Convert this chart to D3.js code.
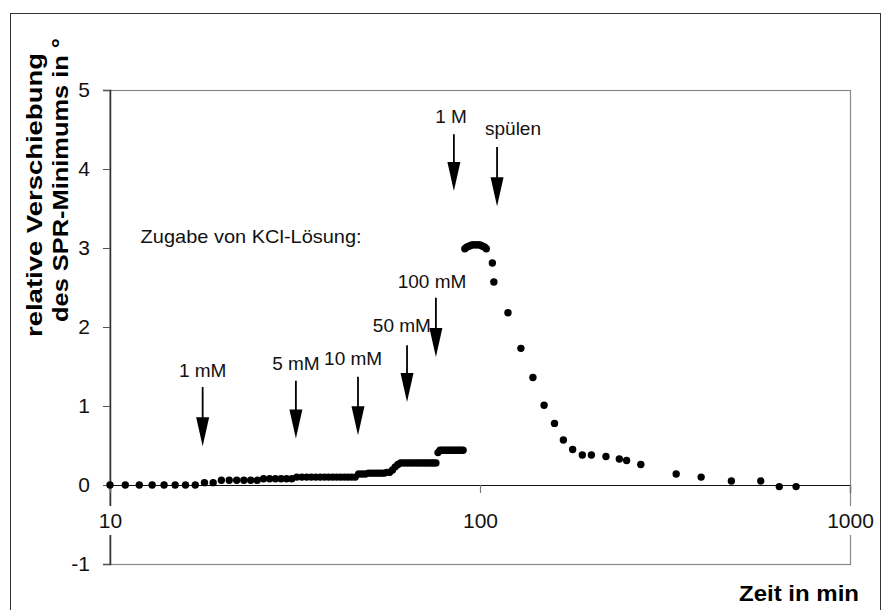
<!DOCTYPE html>
<html>
<head>
<meta charset="utf-8">
<script src="https://cdn.jsdelivr.net/npm/d3@7"></script>
<style>
  html, body { margin: 0; padding: 0; background: #fff; }
  svg { display: block; font-family: Arial, "Liberation Sans", sans-serif; }
</style>
</head>
<body>
<svg id="chart" width="882" height="610"></svg>
<script>
// ---- data ----
const times = [
  10, 11, 12, 13, 14, 15, 16, 17, 18, 19,
  20, 21, 22, 23, 24, 25, 26, 27, 28, 29,
  30, 31, 32, 33, 34, 35, 36, 37, 38, 39,
  40, 41, 42, 43, 44, 45, 46, 47, 48, 49,
  50, 51, 52, 53, 54, 55, 56, 57, 58, 59,
  60, 61, 62, 63, 64, 65, 66, 67, 68, 69,
  70, 71, 72, 73, 74, 75, 76, 77, 78, 79,
  80, 81, 82, 83, 84, 85, 86, 87, 88, 89,
  90, 91, 92, 93, 94, 95, 96, 97, 98, 99,
  100, 101, 102, 103, 104,
  108, 109, 119, 129, 139, 149, 159, 168, 178, 189,
  200, 219, 238, 249, 272, 339, 396, 478, 574, 644, 715
];
const shifts = [
  0, 0, 0, 0, 0, 0, 0, 0, 0.03, 0.03,
  0.06, 0.06, 0.06, 0.06, 0.06, 0.06, 0.08, 0.08, 0.08, 0.08,
  0.08, 0.08, 0.10, 0.10, 0.10, 0.10, 0.10, 0.10, 0.10, 0.10,
  0.10, 0.10, 0.10, 0.10, 0.10, 0.10, 0.10, 0.14, 0.14, 0.14,
  0.15, 0.15, 0.15, 0.15, 0.15, 0.15, 0.16, 0.16, 0.19, 0.23,
  0.26, 0.28, 0.28, 0.28, 0.28, 0.28, 0.28, 0.28, 0.28, 0.28,
  0.28, 0.28, 0.28, 0.28, 0.28, 0.28, 0.28, 0.41, 0.44, 0.44,
  0.44, 0.44, 0.44, 0.44, 0.44, 0.44, 0.44, 0.44, 0.44, 0.44,
  0.44, 2.99, 3.01, 3.02, 3.03, 3.04, 3.04, 3.04, 3.04, 3.04,
  3.04, 3.03, 3.02, 3.01, 2.99,
  2.81, 2.57, 2.18, 1.73, 1.36, 1.01, 0.78, 0.57, 0.45, 0.38,
  0.38, 0.36, 0.33, 0.31, 0.26, 0.14, 0.10, 0.05, 0.05, -0.02, -0.02
];

const xTicks = [10, 100, 1000];
const yTicks = [-1, 0, 1, 2, 3, 4, 5];

// annotation arrows (KCl additions and rinsing)
const arrowLabels = ["1 mM", "5 mM", "10 mM", "50 mM", "100 mM", "1 M", "spülen"];
const arrowTime   = [17.8, 31.8, 46.8, 63.5, 76.0, 85.0, 111.2];
const arrowTop    = [1.24, 1.32, 1.37, 1.77, 2.37, 4.44, 4.28];
const arrowTip    = [0.49, 0.59, 0.63, 1.05, 1.62, 3.72, 3.53];
const labelTime   = [17.8, 31.8, 45.4, 61.5, 74.2, 83.5, 122.8];
const labelShift  = [1.37, 1.46, 1.52, 1.94, 2.49, 4.58, 4.43];

const noteText = "Zugabe von KCl-Lösung:";
const noteTime = 12.1, noteShift = 3.06;

const xTitle = "Zeit in min";
const yTitleLines = ["relative Verschiebung", "des SPR-Minimums in °"];

// ---- drawing ----
const svg = d3.select("#chart");
const x = d3.scaleLog().domain([10, 1000]).range([110, 850]);
const y = d3.scaleLinear().domain([-1, 5]).range([564, 90]);

// outer chart frame
svg.append("rect")
  .attr("x", 10.5).attr("y", 13.5).attr("width", 870).attr("height", 620)
  .attr("fill", "none").attr("stroke", "#333").attr("stroke-width", 1);

// plot-area border (grey)
svg.append("rect")
  .attr("x", x(10)).attr("y", y(5) + 0.5)
  .attr("width", x(1000) - x(10) + 0.5).attr("height", y(-1) - y(5))
  .attr("fill", "none").attr("stroke", "#888").attr("stroke-width", 1.2);

// y axis
const yAxis = svg.append("g")
  .attr("transform", `translate(${x(10)},0)`)
  .call(d3.axisLeft(y).tickValues(yTicks).tickSize(7).tickPadding(13).tickFormat(d => String(d)));
yAxis.select(".domain").attr("stroke", "#333").attr("stroke-width", 1.5);
yAxis.selectAll(".tick line").attr("stroke", "#555");
yAxis.selectAll(".tick text")
  .attr("font-size", 21).attr("fill", "#111")
  .attr("font-family", "Arial, 'Liberation Sans', sans-serif");

// x axis at y = 0
const xAxis = svg.append("g")
  .attr("transform", `translate(0,${y(0)})`)
  .call(d3.axisBottom(x).tickValues(xTicks).tickSize(8).tickPadding(20).tickFormat(d => String(d)));
xAxis.select(".domain").attr("stroke", "#111").attr("stroke-width", 1.2);
xAxis.selectAll(".tick line").attr("stroke", "#777").attr("stroke-width", 1.2);
xAxis.selectAll(".tick").each(function() {
  const t = d3.select(this);
  const txt = t.select("text")
    .attr("font-size", 21).attr("fill", "#111")
    .attr("font-family", "Arial, 'Liberation Sans', sans-serif");
  const w = txt.node().getComputedTextLength();
  t.insert("rect", "text")
    .attr("x", -w / 2 - 2).attr("y", 21).attr("width", w + 4).attr("height", 29)
    .attr("fill", "#fff");
});

// data points
svg.append("g").selectAll("circle")
  .data(times.map((t, i) => [t, shifts[i]]))
  .join("circle")
  .attr("cx", d => x(d[0]))
  .attr("cy", d => y(d[1]))
  .attr("r", 3.7)
  .attr("fill", "#000");

// arrows
const ag = svg.append("g");
arrowTime.forEach((t, i) => {
  const ax = x(t), y0 = y(arrowTop[i]), y1 = y(arrowTip[i]);
  const headLen = 29, headW = 6.5;
  ag.append("line")
    .attr("x1", ax).attr("x2", ax).attr("y1", y0).attr("y2", y1 - headLen + 2)
    .attr("stroke", "#000").attr("stroke-width", 1.8);
  ag.append("path")
    .attr("d", `M${ax - headW},${y1 - headLen} L${ax + headW},${y1 - headLen} L${ax},${y1} Z`)
    .attr("fill", "#000");
});

// arrow labels
svg.append("g").selectAll("text")
  .data(arrowLabels)
  .join("text")
  .attr("x", (d, i) => x(labelTime[i]))
  .attr("y", (d, i) => y(labelShift[i]))
  .attr("text-anchor", "middle")
  .attr("font-size", 19)
  .attr("fill", "#111")
  .text(d => d);

// note
svg.append("text")
  .attr("x", x(noteTime)).attr("y", y(noteShift))
  .attr("font-size", 19).attr("fill", "#111")
  .attr("textLength", 221).attr("lengthAdjust", "spacingAndGlyphs")
  .text(noteText);

// axis titles
svg.append("text")
  .attr("x", 739).attr("y", 601)
  .attr("font-size", 22).attr("font-weight", "bold").attr("fill", "#000")
  .attr("textLength", 120).attr("lengthAdjust", "spacingAndGlyphs")
  .text(xTitle);

const yTitlePos = [[42, 195], [68, 180]];
yTitleLines.forEach((line, i) => {
  svg.append("text")
    .attr("transform", `translate(${yTitlePos[i][0]},${yTitlePos[i][1]}) rotate(-90)`)
    .attr("text-anchor", "middle")
    .attr("font-size", 22).attr("font-weight", "bold").attr("fill", "#000")
    .attr("textLength", 284).attr("lengthAdjust", "spacingAndGlyphs")
    .text(line);
});
</script>
</body>
</html>
